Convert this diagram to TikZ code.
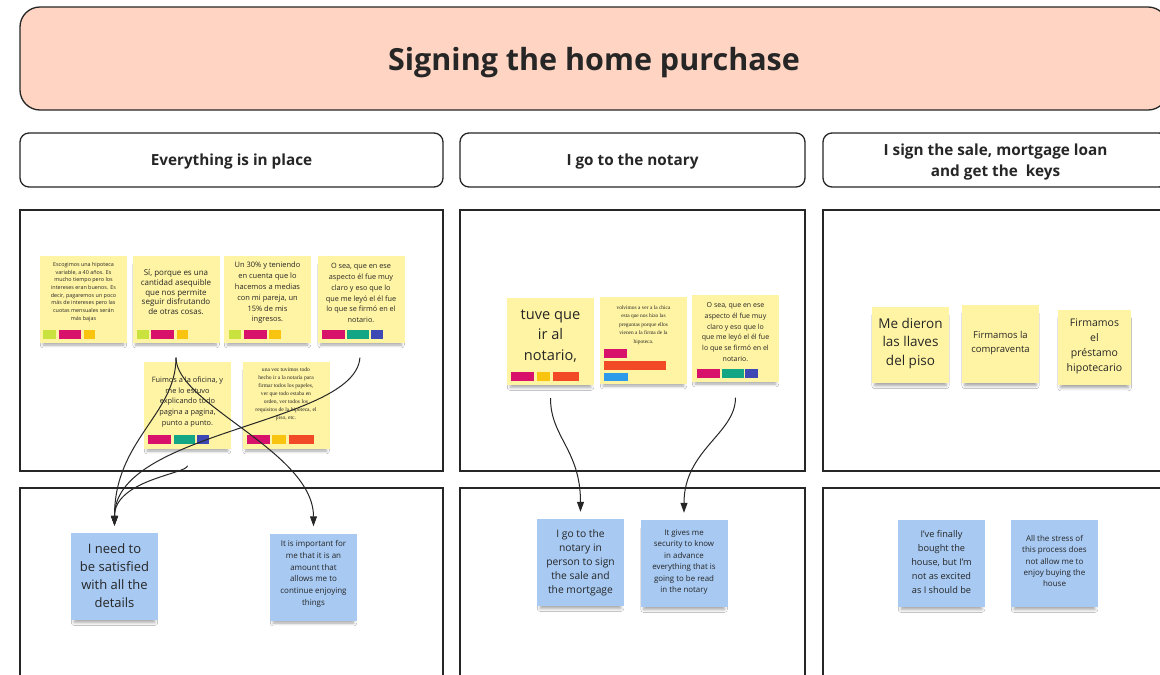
\documentclass[tikz,border=0pt]{standalone}
\usepackage{fontspec}
\setmainfont{Open Sans}
\newfontfamily\notesserif{Liberation Serif}
\usetikzlibrary{arrows.meta,shadows.blur}

\definecolor{titlefill}{HTML}{FFD4C2}
\definecolor{noteyellow}{HTML}{FFF4A3}
\definecolor{noteblue}{HTML}{A7C9F2}
\definecolor{tlime}{HTML}{C9E23E}
\definecolor{tmagenta}{HTML}{D8116A}
\definecolor{tamber}{HTML}{F9C40F}
\definecolor{tteal}{HTML}{13A685}
\definecolor{tindigo}{HTML}{3E48B4}
\definecolor{torange}{HTML}{F24A26}
\definecolor{tsky}{HTML}{2D9BEA}
\definecolor{ink}{HTML}{262626}

\newcommand{\fz}[2]{\fontsize{#1}{#2}\selectfont}

\begin{document}
\begin{tikzpicture}[x=1pt,y=-1pt,
  titlebox/.style={draw=ink, line width=1.3pt, fill=titlefill, rounded corners=20pt,
    inner sep=0pt, font=\bfseries\fz{30.5}{36}, text=ink, text depth=0pt},
  headbox/.style={draw=ink, line width=1.3pt, fill=white, rounded corners=9pt,
    inner sep=0pt, font=\bfseries\fz{15.3}{21}, text=ink, align=center, text depth=0pt},
  panel/.style={draw=ink, line width=2pt, inner sep=0pt},
  sticky/.style={inner sep=0pt, minimum width=87pt, minimum height=87pt,
    blur shadow={shadow xshift=0pt, shadow yshift=-6pt, shadow scale=0.93,
      shadow blur radius=3pt, shadow blur steps=6, shadow opacity=35}},
  ysticky/.style={sticky, fill=noteyellow},
  bsticky/.style={sticky, fill=noteblue},
  notetext/.style={inner sep=0pt, align=center, text=ink},
  conn/.style={draw=ink, line width=1pt, -{Triangle[length=10pt,width=7pt]}},
]
\useasboundingbox (0,0) rectangle (1160,675);
\fill[white] (0,0) rectangle (1160,675);
\begin{scope}
\clip (0,0) rectangle (1160,675);

% title and column headers
\node[titlebox, minimum width=1148pt, minimum height=103pt] (title) at (594,58.5) {Signing the home purchase};
\node[headbox, minimum width=423pt, minimum height=54pt] (h1) at (231.5,160) {Everything is in place};
\node[headbox, minimum width=345pt, minimum height=54pt] (h2) at (632.5,160) {I go to the notary};
\node[headbox, minimum width=345pt, minimum height=54pt] (h3) at (995.5,160) {I sign the sale, mortgage loan\\and get the\ \ keys};

% panels
\node[panel, minimum width=423pt, minimum height=261pt] (p1) at (231.5,340.5) {};
\node[panel, minimum width=345pt, minimum height=261pt] (p2) at (632.5,340.5) {};
\node[panel, minimum width=345pt, minimum height=261pt] (p3) at (995.5,340.5) {};
\node[panel, minimum width=423pt, minimum height=212pt] (q1) at (231.5,594) {};
\node[panel, minimum width=345pt, minimum height=212pt] (q2) at (632.5,594) {};
\node[panel, minimum width=345pt, minimum height=212pt] (q3) at (995.5,594) {};

% ---- column 1: yellow notes
\node[ysticky] (s1) at (83.5,299) {};
\node[notetext, font=\fz{5.4}{7.7}] (s1t) at (83.5,292) {Escogimos una hipoteca\\variable, a 40 años. Es\\mucho tiempo pero los\\intereses eran buenos. Es\\decir, pagaremos un poco\\más de intereses pero las\\cuotas mensuales serán\\más bajas};
\fill[tlime] (43,330) rectangle (56,339);
\fill[tmagenta] (59,330) rectangle (81,339);
\fill[tamber] (84,330) rectangle (95,339);

\node[ysticky] (s2) at (176,299) {};
\node[notetext, font=\fz{8}{9.9}] (s2t) at (176,292) {Sí, porque es una\\cantidad asequible\\que nos permite\\seguir disfrutando\\de otras cosas.};
\fill[tlime] (137,330) rectangle (149,339);
\fill[tmagenta] (151,330) rectangle (174,339);
\fill[tamber] (177,330) rectangle (188,339);

\node[ysticky] (s3) at (267.5,299) {};
\node[notetext, font=\fz{7.5}{10.8}] (s3t) at (267.5,293) {Un 30\% y teniendo\\en cuenta que lo\\hacemos a medias\\con mi pareja, un\\15\% de mis\\ingresos.};
\fill[tlime] (229,330) rectangle (241,339);
\fill[tmagenta] (244,330) rectangle (267,339);
\fill[tamber] (269,330) rectangle (281,339);

\node[ysticky] (s4) at (361,299) {};
\node[notetext, font=\fz{7.3}{10.8}] (s4t) at (361,293) {O sea, que en ese\\aspecto él fue muy\\claro y eso que lo\\que me leyó el él fue\\lo que se firmó en el\\notario.};
\fill[tmagenta] (322,330) rectangle (345,339);
\fill[tteal] (347,330) rectangle (369,339);
\fill[tindigo] (371,330) rectangle (383,339);

\node[ysticky] (s5) at (187.5,405) {};
\node[notetext, font=\fz{7.4}{10.7}] (s5t) at (187.5,402) {Fuimos a la oficina, y\\me lo estuvo\\explicando todo\\pagina a pagina,\\punto a punto.};
\fill[tmagenta] (148,435) rectangle (171,444);
\fill[tteal] (174,435) rectangle (195,444);
\fill[tindigo] (197,435) rectangle (209,444);

\node[ysticky] (s6) at (286,405) {};
\node[notetext, font=\notesserif\fz{5.6}{7.9}] (s6t) at (286,394) {una vez tuvimos todo\\hecho ir a la notaría para\\firmar todos los papeles,\\ver que todo estaba en\\orden, ver todos los\\requisitos de la hipoteca, el\\piso, etc.};
\fill[tmagenta] (247,435) rectangle (270,444);
\fill[tamber] (272,435) rectangle (286,444);
\fill[torange] (289,435) rectangle (314,444);

% ---- column 1: blue notes
\node[bsticky] (b1) at (114.5,576.5) {};
\node[notetext, font=\fz{13}{18}] (b1t) at (114.5,576) {I need to\\be satisfied\\with all the\\details};
\node[bsticky] (b2) at (313.5,577) {};
\node[notetext, font=\fz{8}{11.7}] (b2t) at (313.5,574) {It is important for\\me that it is an\\amount that\\allows me to\\continue enjoying\\things};

% ---- column 2: yellow notes
\node[ysticky] (t1) at (550.5,341.5) {};
\node[notetext, font=\fz{14.6}{20.8}] (t1t) at (550.5,336) {tuve que\\ir al\\notario,};
\fill[tmagenta] (511,372) rectangle (534,381);
\fill[tamber] (537,372) rectangle (550,381);
\fill[torange] (553,372) rectangle (579,381);

\node[ysticky] (t2) at (643.5,340) {};
\node[notetext, font=\notesserif\fz{5.4}{8.5}] (t2t) at (643.5,325) {volvimos a ver a la chica\\esta que nos hizo las\\preguntas porque ellos\\vienen a la firma de la\\hipoteca.};
\fill[tmagenta] (604,349) rectangle (627,358);
\fill[torange] (604,361) rectangle (666,370);
\fill[tsky] (604,373) rectangle (628,381);

\node[ysticky] (t3) at (735.5,338) {};
\node[notetext, font=\fz{7}{10.7}] (t3t) at (735.5,332) {O sea, que en ese\\aspecto él fue muy\\claro y eso que lo\\que me leyó el él fue\\lo que se firmó en el\\notario.};
\fill[tmagenta] (697,369) rectangle (720,378);
\fill[tteal] (722,369) rectangle (744,378);
\fill[tindigo] (745,369) rectangle (758,378);

% ---- column 2: blue notes
\node[bsticky] (b3) at (580.5,562.5) {};
\node[notetext, font=\fz{10.3}{14}] (b3t) at (580.5,563) {I go to the\\notary in\\person to sign\\the sale and\\the mortgage};
\node[bsticky] (b4) at (684,563.5) {};
\node[notetext, font=\fz{7.9}{11.4}] (b4t) at (684,562) {It gives me\\security to know\\in advance\\everything that is\\going to be read\\in the notary};

% ---- column 3: yellow notes
\node[ysticky, minimum width=77pt, minimum height=76pt] (k1) at (910.5,345) {};
\node[notetext, font=\fz{13.5}{18.5}] (k1t) at (910.5,343) {Me dieron\\las llaves\\del piso};
\node[ysticky, minimum width=77pt, minimum height=78pt] (k2) at (1000.5,344) {};
\node[notetext, font=\fz{9.5}{14}] (k2t) at (1000.5,343) {Firmamos la\\compraventa};
\node[ysticky, minimum width=73pt, minimum height=75pt] (k3) at (1094.5,347.5) {};
\node[notetext, font=\fz{10.5}{15}] (k3t) at (1094.5,346) {Firmamos\\el\\préstamo\\hipotecario};

% ---- column 3: blue notes
\node[bsticky] (b5) at (941.5,563.5) {};
\node[notetext, font=\fz{9.2}{14.2}] (b5t) at (941.5,562) {I've finally\\bought the\\house, but I'm\\not as excited\\as I should be};
\node[bsticky] (b6) at (1054.5,563.5) {};
\node[notetext, font=\fz{8}{11.3}] (b6t) at (1054.5,561) {All the stress of\\this process does\\not allow me to\\enjoy buying the\\house};

% ---- connectors
\draw[conn, shorten <=15pt, shorten >=7pt] (s2.south) .. controls +(0,72) and +(0,-93) .. (b1.north);
\draw[conn, shorten <=15pt, shorten >=7pt] (s2.south) .. controls +(0,62) and +(0,-82) .. (b2.north);
\draw[conn, shorten <=15pt, shorten >=7pt] (s4.south) .. controls +(-6,82) and +(0,-103) .. (b1.north);
\draw[conn, shorten <=17pt, shorten >=7pt] (s5.south) .. controls +(0,25) and +(0,-53) .. (b1.north);
\draw[conn, shorten <=13pt, shorten >=7pt] (t1.south) .. controls +(0,52) and +(0,-69) .. (b3.north);
\draw[conn, shorten <=16pt, shorten >=7pt] (t3.south) .. controls +(0,52) and +(0,-70) .. (b4.north);
\end{scope}
\end{tikzpicture}
\end{document}
